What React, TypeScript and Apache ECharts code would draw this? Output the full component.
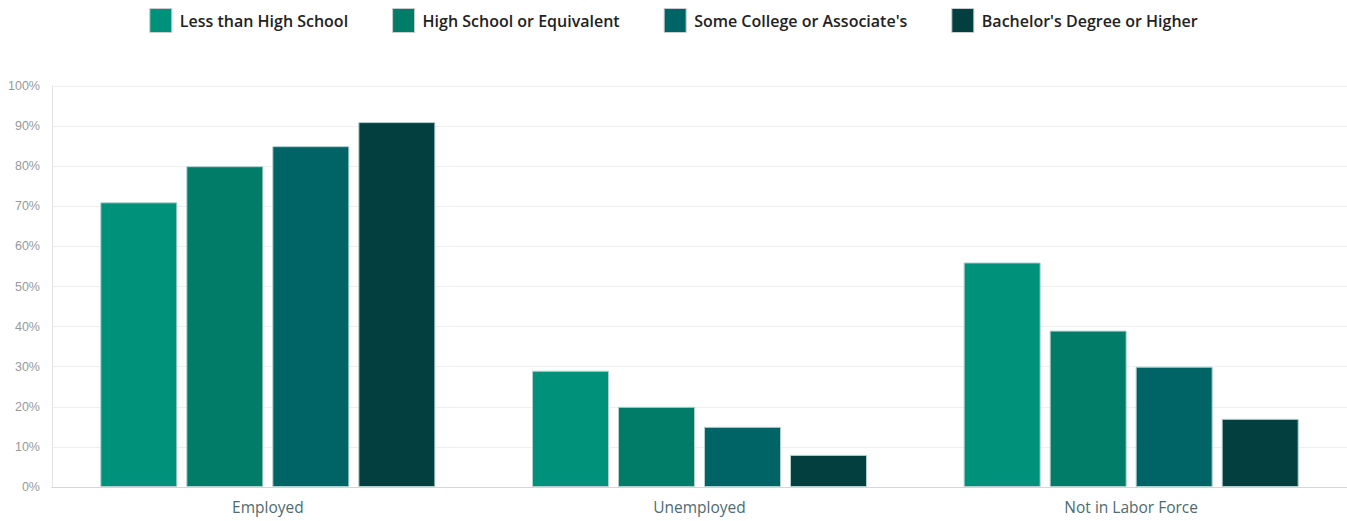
import React, { useEffect, useRef } from "react";
import * as echarts from "echarts";

// Labor-force status by educational attainment (percent)
const categories = ["Employed", "Unemployed", "Not in Labor Force"];
const seriesNames = [
  "Less than High School",
  "High School or Equivalent",
  "Some College or Associate's",
  "Bachelor's Degree or Higher",
];
const lessThanHighSchool = [71, 29, 56];
const highSchool = [80, 20, 39];
const someCollege = [85, 15, 30];
const bachelorsOrHigher = [91, 8, 17];
const seriesColors = ["#00917B", "#007C68", "#006366", "#043F40"];

export default function App() {
  const ref = useRef<HTMLDivElement>(null);

  useEffect(() => {
    if (!ref.current) return;
    const chart = echarts.init(ref.current, undefined, { renderer: "svg" });
    const values = [lessThanHighSchool, highSchool, someCollege, bachelorsOrHigher];
    chart.setOption({
      animation: false,
      textStyle: { fontFamily: "Open Sans" },
      legend: {
        top: 3,
        left: "center",
        itemWidth: 22,
        itemHeight: 24,
        itemGap: 44,
        icon: "rect",
        textStyle: {
          fontSize: 16,
          fontWeight: 600,
          color: "#222",
          fontFamily: "Open Sans",
          padding: [0, 0, 0, 3],
        },
        itemStyle: { borderColor: "#c8cccc", borderWidth: 1 },
        data: seriesNames,
      },
      grid: { left: 52, right: 0, top: 86, bottom: 34, containLabel: false },
      xAxis: {
        type: "category",
        data: categories,
        axisLine: { lineStyle: { color: "#d6d6d6" } },
        axisTick: { show: false },
        axisLabel: { color: "#4d6b70", fontSize: 15.5, margin: 12 },
      },
      yAxis: {
        type: "value",
        min: 0,
        max: 100,
        interval: 10,
        axisLine: { show: true, lineStyle: { color: "#e4e4e4" } },
        axisTick: { show: false },
        axisLabel: { formatter: "{value}%", color: "#999", fontSize: 12.5, margin: 12, fontFamily: "Arial" },
        splitLine: { lineStyle: { color: "#eeeeee" } },
      },
      series: seriesNames.map((name, i) => ({
        name,
        type: "bar",
        data: values[i],
        barWidth: 77,
        barGap: "11.7%",
        itemStyle: { color: seriesColors[i], borderColor: "#b4d0cd", borderWidth: 1 },
      })),
    });
    return () => chart.dispose();
  }, []);

  return (
    <div
      ref={ref}
      style={{ position: "fixed", left: 0, top: 0, width: 1347, height: 521, background: "#fff" }}
    />
  );
}
